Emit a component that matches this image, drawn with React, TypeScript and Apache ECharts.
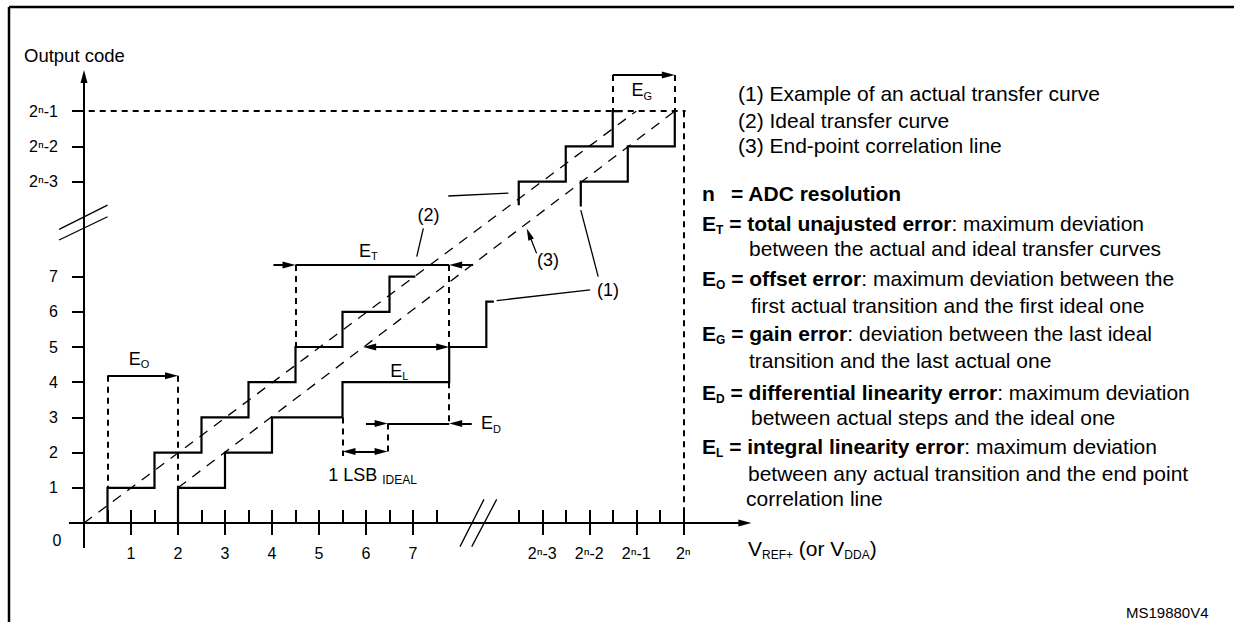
import React, { useEffect, useRef } from 'react';
import * as echarts from 'echarts';

const FONT = '"Liberation Sans", Arial, Helvetica, sans-serif';

// ---- axis ticks (virtual units: 1 LSB per unit, break after 7) ----
const xMajorTicks = [1, 2, 3, 4, 5, 6, 7, 9.75, 10.75, 11.75, 12.75];
const xMajorLabels = ['1', '2', '3', '4', '5', '6', '7', '2ⁿ-3', '2ⁿ-2', '2ⁿ-1', '2ⁿ'];
const xMinorTicks = [0.5, 1.5, 2.5, 3.5, 4.5, 5.5, 6.5, 7.5, 9.25, 10.25, 11.25, 12.25];
const yTicks = [1, 2, 3, 4, 5, 6, 7, 9.7, 10.7, 11.7];
const yLabels = ['1', '2', '3', '4', '5', '6', '7', '2ⁿ-3', '2ⁿ-2', '2ⁿ-1'];

// ---- curves ----
const idealLow = [[0.5, 0], [0.5, 1], [1.5, 1], [1.5, 2], [2.5, 2], [2.5, 3], [3.5, 3], [3.5, 4], [4.5, 4], [4.5, 5], [5.5, 5], [5.5, 6], [6.5, 6], [6.5, 7], [7.05, 7]];
const idealHigh = [[9.25, 9.03], [9.25, 9.7], [10.25, 9.7], [10.25, 10.7], [11.25, 10.7], [11.25, 11.7], [11.45, 11.7]];
const actualLow = [[2, 0], [2, 1], [3, 1], [3, 2], [4, 2], [4, 3], [5.5, 3], [5.5, 4], [7.77, 4], [7.77, 5], [8.56, 5], [8.56, 6.29], [8.72, 6.29]];
const actualHigh = [[10.57, 8.99], [10.57, 9.7], [11.57, 9.7], [11.57, 10.7], [12.57, 10.7], [12.57, 11.7]];
const idealLine = [[0, 0], [11.75, 11.7]];
const endPointLine = [[2, 1], [12.57, 11.7]];

// ---- axes with arrow heads ----
const axisArrows = [
  { a: [-0.32, 0], b: [14.2, 0] },
  { a: [0, -0.71], b: [0, 12.87] },
];

// ---- error dimension arrows ----
const dimArrows = [
  { a: [0.5, 4.18], b: [2, 4.18], head: 'end' }, // E_O
  { a: [4.03, 7.33], b: [4.5, 7.33], head: 'end' }, // E_T
  { a: [4.5, 7.33], b: [7.77, 7.33], head: 'none' },
  { a: [8.28, 7.33], b: [7.77, 7.33], head: 'end' },
  { a: [5.94, 5], b: [7.77, 5], head: 'both' }, // E_L
  { a: [6.0, 2.83], b: [6.46, 2.83], head: 'end' }, // E_D
  { a: [6.46, 2.83], b: [7.77, 2.83], head: 'none' },
  { a: [8.25, 2.83], b: [7.77, 2.83], head: 'end' },
  { a: [5.5, 2.03], b: [6.46, 2.03], head: 'both' }, // 1 LSB
  { a: [11.25, 12.73], b: [12.57, 12.73], head: 'end' }, // E_G
];

const dashedGuides = [
  [[0.5, 4.18], [0.5, 1]],
  [[2, 4.18], [2, 1]],
  [[4.5, 7.33], [4.5, 5]],
  [[7.77, 7.33], [7.77, 5]],
  [[7.77, 4], [7.77, 2.83]],
  [[5.5, 3], [5.5, 1.9]],
  [[6.46, 2.83], [6.46, 1.95]],
  [[11.25, 12.73], [11.25, 11.7]],
  [[12.57, 12.73], [12.57, 11.7]],
  [[12.75, 11.7], [12.75, 0]],
  [[0.1, 11.7], [12.8, 11.7]],
];

const calloutLines = [
  [[7.75, 9.29], [9.03, 9.37]],
  [[7.22, 8.37], [7.08, 7.57]],
  [[10.94, 7.0], [10.57, 8.89]],
  [[10.77, 6.62], [8.78, 6.32]],
];
const calloutArrow = { a: [9.63, 7.66], b: [9.42, 8.37] };

const breakMarks = [
  [[8.0, -0.67], [8.51, 0.67]],
  [[8.25, -0.67], [8.78, 0.67]],
  [[-0.53, 8.04], [0.5, 8.7]],
  [[-0.53, 8.34], [0.5, 9.03]],
];

// ---- labels ----
const errorLabels = [
  { p: [1.17, 4.66], sub: 'O' },
  { p: [6.05, 7.74], sub: 'T' },
  { p: [6.71, 4.32], sub: 'L' },
  { p: [8.66, 2.84], sub: 'D' },
  { p: [11.87, 12.3], sub: 'G' },
];
const calloutLabels = [
  { p: [11.15, 6.62], t: '(1)' },
  { p: [7.33, 8.75], t: '(2)' },
  { p: [9.87, 7.47], t: '(3)' },
];
const lsbLabelPos = [6.14, 1.36];

const legendLines = [
  '(1) Example of an actual transfer curve',
  '(2) Ideal transfer curve',
  '(3) End-point correlation line',
];
const definitionLines = [
  '{b|E}{bs|T}{b| = total unajusted error}{n|: maximum deviation}',
  '{n|between the actual and ideal transfer curves}',
  '{b|E}{bs|O}{b| = offset error}{n|: maximum deviation between the}',
  '{n|first actual transition and the first ideal one}',
  '{b|E}{bs|G}{b| = gain error}{n|: deviation between the last ideal}',
  '{n|transition and the last actual one}',
  '{b|E}{bs|D}{b| = differential linearity error}{n|: maximum deviation}',
  '{n|between actual steps and the ideal one}',
  '{b|E}{bs|L}{b| = integral linearity error}{n|: maximum deviation}',
  '{n|between any actual transition and the end point}',
  '{n|correlation line}',
];

// grid geometry
const GRID_LEFT = 37;
const GRID_TOP = 65.4;
const KX = 47;
const KY = 35.2;
const X_MIN = -1, X_MAX = 15, Y_MIN = -1, Y_MAX = 13;
const HEAD = [7, 13];

function shiftToward(p: number[], q: number[], pxDist: number) {
  const dx = (q[0] - p[0]) * KX;
  const dy = (q[1] - p[1]) * KY;
  const len = Math.hypot(dx, dy) || 1;
  return [p[0] + ((q[0] - p[0]) * pxDist) / len, p[1] + ((q[1] - p[1]) * pxDist) / len];
}

function seg(a: number[], b: number[], head: string, width: number, dash: any, headSize = HEAD) {
  const hs = head === 'start' || head === 'both';
  const he = head === 'end' || head === 'both';
  const a2 = hs ? shiftToward(a, b, headSize[1] / 2) : a;
  const b2 = he ? shiftToward(b, a, headSize[1] / 2) : b;
  const ls = { color: '#000', width, type: dash };
  return [
    { coord: a2, symbol: hs ? 'triangle' : 'none', symbolSize: headSize, lineStyle: ls },
    { coord: b2, symbol: he ? 'triangle' : 'none', symbolSize: headSize, lineStyle: ls },
  ];
}

export default function App() {
  const ref = useRef<HTMLDivElement>(null);
  useEffect(() => {
    const chart = echarts.init(ref.current!, null, { renderer: 'svg' });

    const marks: any[] = [];
    axisArrows.forEach((s) => marks.push(seg(s.a, s.b, 'end', 2, 'solid')));
    dimArrows.forEach((s) => marks.push(seg(s.a, s.b, s.head, 2, 'solid')));
    dashedGuides.forEach((s) => marks.push(seg(s[0], s[1], 'none', 2, [6, 5])));
    calloutLines.forEach((s) => marks.push(seg(s[0], s[1], 'none', 1.3, 'solid')));
    marks.push(seg(calloutArrow.a, calloutArrow.b, 'end', 1.3, 'solid', [6, 12]));
    breakMarks.forEach((s) => marks.push(seg(s[0], s[1], 'none', 1.3, 'solid')));
    xMajorTicks.forEach((v) => marks.push(seg([v, 0.37], [v, -0.34], 'none', 2, 'solid')));
    xMinorTicks.forEach((v) => marks.push(seg([v, 0.37], [v, 0], 'none', 2, 'solid')));
    yTicks.forEach((u) => marks.push(seg([-0.255, u], [0, u], 'none', 2, 'solid')));

    const stair = (data: number[][], extra: any = {}) => ({
      type: 'line',
      data,
      symbol: 'none',
      clip: false,
      silent: true,
      animation: false,
      lineStyle: { color: '#000', width: 2.2, join: 'miter', cap: 'butt' },
      z: 3,
      ...extra,
    });
    const dashed = (data: number[][]) => ({
      type: 'line',
      data,
      symbol: 'none',
      clip: false,
      silent: true,
      animation: false,
      lineStyle: { color: '#000', width: 1.3, type: [10, 8] },
      z: 2,
    });

    chart.setOption({
      animation: false,
      backgroundColor: '#fff',
      grid: {
        left: GRID_LEFT,
        top: GRID_TOP,
        width: (X_MAX - X_MIN) * KX,
        height: (Y_MAX - Y_MIN) * KY,
      },
      xAxis: { type: 'value', min: X_MIN, max: X_MAX, show: false },
      yAxis: { type: 'value', min: Y_MIN, max: Y_MAX, show: false },
      series: [
        stair(idealLow, {
          markLine: {
            silent: true,
            animation: false,
            symbol: ['none', 'none'],
            label: { show: false },
            emphasis: { disabled: true },
            lineStyle: { color: '#000', type: 'solid' },
            itemStyle: { color: '#000' },
            data: marks,
          },
        }),
        stair(idealHigh),
        stair(actualLow),
        stair(actualHigh),
        dashed(idealLine),
        dashed(endPointLine),
      ],
    });

    const P = (p: number[]) => chart.convertToPixel({ gridIndex: 0 }, p) as number[];
    const txt = (x: number, y: number, text: string, o: any = {}) => ({
      type: 'text',
      x,
      y,
      silent: true,
      z: 10,
      style: {
        text,
        fontFamily: FONT,
        fontSize: o.fontSize ?? 16,
        fontWeight: o.fontWeight ?? 'normal',
        fill: '#000',
        align: o.align ?? 'center',
        verticalAlign: 'middle',
        rich: o.rich,
      },
    });

    const g: any[] = [];
    // frame
    g.push({ type: 'line', silent: true, shape: { x1: 9, y1: 7, x2: 1234, y2: 7 }, style: { stroke: '#000', lineWidth: 2.5 } });
    g.push({ type: 'line', silent: true, shape: { x1: 9, y1: 7, x2: 9, y2: 622 }, style: { stroke: '#000', lineWidth: 2.5 } });

    g.push(txt(24, 55, 'Output code', { fontSize: 18.5, align: 'left' }));

    xMajorTicks.forEach((v, i) => {
      const [x, y] = P([v, 0]);
      g.push(txt(x, y + 30, xMajorLabels[i], { fontSize: 16 }));
    });
    yTicks.forEach((u, i) => {
      const [x, y] = P([0, u]);
      g.push(txt(x - 26, y, yLabels[i], { fontSize: 16, align: 'right' }));
    });
    {
      const [x, y] = P([0, 0]);
      g.push(txt(x - 27, y + 17, '0', { fontSize: 16 }));
    }

    const eRich = {
      e: { fontFamily: FONT, fontSize: 18, lineHeight: 22 },
      s: { fontFamily: FONT, fontSize: 11, lineHeight: 8, verticalAlign: 'bottom' },
    };
    errorLabels.forEach((l) => {
      const [x, y] = P(l.p);
      g.push(txt(x, y, `{e|E}{s|${l.sub}}`, { rich: eRich }));
    });
    calloutLabels.forEach((l) => {
      const [x, y] = P(l.p);
      g.push(txt(x, y, l.t, { fontSize: 18 }));
    });
    {
      const [x, y] = P(lsbLabelPos);
      g.push(
        txt(x, y, '{a|1 LSB }{b|IDEAL}', {
          rich: {
            a: { fontFamily: FONT, fontSize: 18, lineHeight: 22 },
            b: { fontFamily: FONT, fontSize: 12, lineHeight: 18, verticalAlign: 'bottom' },
          },
        })
      );
    }

    // right-hand text block
    const R = {
      b: { fontFamily: FONT, fontSize: 21, fontWeight: 'bold', lineHeight: 26 },
      n: { fontFamily: FONT, fontSize: 21, lineHeight: 26 },
      bs: { fontFamily: FONT, fontSize: 12, fontWeight: 'bold', lineHeight: 10, verticalAlign: 'bottom' },
      ns: { fontFamily: FONT, fontSize: 12, lineHeight: 12, verticalAlign: 'bottom' },
    };
    const legendY = [93, 120, 145];
    legendLines.forEach((t, i) => g.push(txt(738, legendY[i], `{n|${t}}`, { rich: R, align: 'left' })));
    g.push(txt(702, 193, '{b|n}', { rich: R, align: 'left' }));
    g.push(txt(731, 193, '{b|= ADC resolution}', { rich: R, align: 'left' }));
    const defX = [702, 749, 702, 751, 702, 749, 702, 751, 702, 748, 746];
    const defY = [223, 248, 278, 305, 333, 360, 392, 417, 446, 473, 498];
    definitionLines.forEach((t, i) => g.push(txt(defX[i], defY[i], t, { rich: R, align: 'left' })));

    g.push(txt(748, 548, '{n|V}{ns|REF+}{n| (or V}{ns|DDA}{n|)}', { rich: R, align: 'left' }));
    g.push(txt(1126, 612, 'MS19880V4', { fontSize: 15, align: 'left' }));

    chart.setOption({ graphic: g });

    return () => chart.dispose();
  }, []);

  return (
    <div
      ref={ref}
      style={{ position: 'fixed', left: 0, top: 0, width: 1234, height: 622, background: '#fff' }}
    />
  );
}
